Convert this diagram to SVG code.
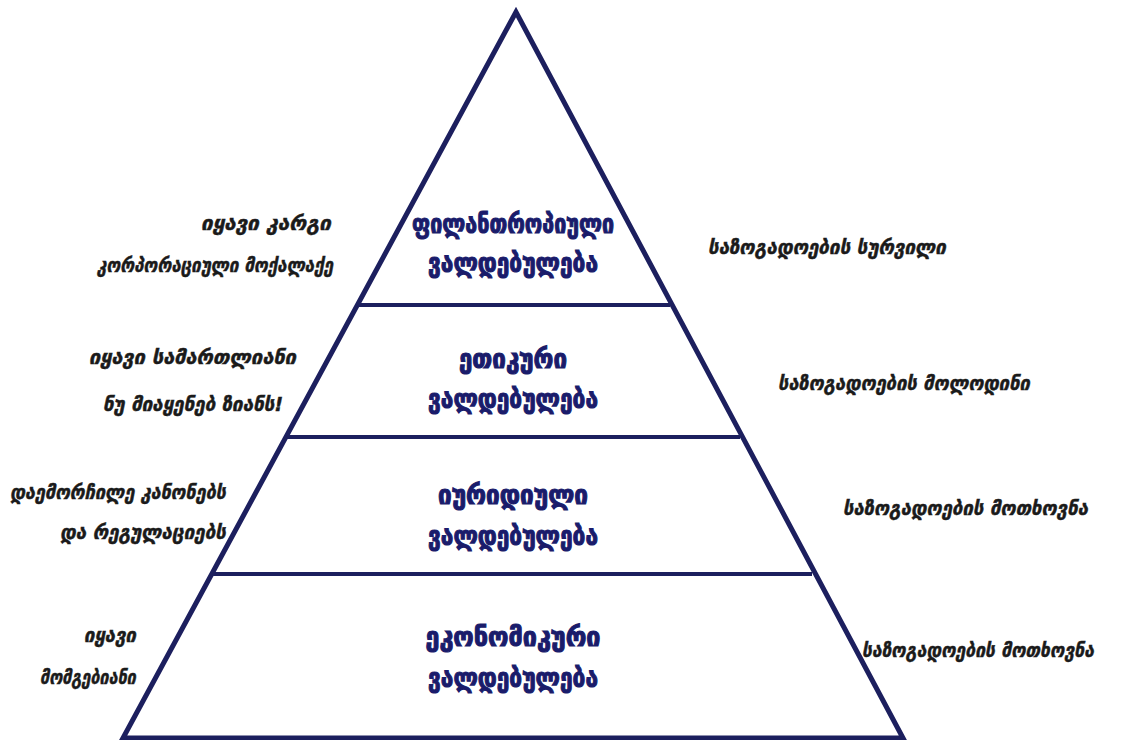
<svg xmlns="http://www.w3.org/2000/svg" width="1126" height="740" viewBox="0 0 1126 740">
<style>
.edge{fill:none;stroke:#1c1f5e;stroke-width:5;stroke-linejoin:miter}
.lvl{stroke:#1c1f5e;stroke-width:4}
.ctr{font-family:"DejaVu Sans",sans-serif;font-weight:bold;font-size:27px;fill:#1a1c6b;stroke:#1a1c6b;stroke-width:1.2;text-anchor:middle}
.side{font-family:"DejaVu Sans",sans-serif;font-weight:bold;font-style:italic;font-size:20px;fill:#1a1a1a;stroke:#1a1a1a;stroke-width:0.5}
</style>
<rect width="1126" height="740" fill="#ffffff"/>
<g id="connectors">
<polygon class="edge" points="516,12 123,738 903,738"/>
<line class="lvl" x1="358" y1="305" x2="670" y2="305"/>
<line class="lvl" x1="287" y1="437" x2="740" y2="437"/>
<line class="lvl" x1="213" y1="574" x2="812" y2="574"/>
</g>
<g id="philanthropic">
<text class="ctr" x="513" y="233" textLength="202" lengthAdjust="spacingAndGlyphs">ფილანთროპიული</text>
<text class="ctr" x="513" y="272" textLength="170" lengthAdjust="spacingAndGlyphs">ვალდებულება</text>
</g>
<g id="ethical">
<text class="ctr" x="513" y="368" textLength="108" lengthAdjust="spacingAndGlyphs">ეთიკური</text>
<text class="ctr" x="513" y="408" textLength="170" lengthAdjust="spacingAndGlyphs">ვალდებულება</text>
</g>
<g id="legal">
<text class="ctr" x="513" y="504" textLength="150" lengthAdjust="spacingAndGlyphs">იურიდიული</text>
<text class="ctr" x="513" y="545" textLength="170" lengthAdjust="spacingAndGlyphs">ვალდებულება</text>
</g>
<g id="economic">
<text class="ctr" x="513" y="646" textLength="175" lengthAdjust="spacingAndGlyphs">ეკონომიკური</text>
<text class="ctr" x="513" y="687" textLength="170" lengthAdjust="spacingAndGlyphs">ვალდებულება</text>
</g>
<g id="left-labels">
<text class="side" x="201" y="230" textLength="130" lengthAdjust="spacingAndGlyphs">იყავი კარგი</text>
<text class="side" x="97" y="272" textLength="236" lengthAdjust="spacingAndGlyphs">კორპორაციული მოქალაქე</text>
<text class="side" x="89" y="364" textLength="207" lengthAdjust="spacingAndGlyphs">იყავი სამართლიანი</text>
<text class="side" x="103" y="411" textLength="180" lengthAdjust="spacingAndGlyphs">ნუ მიაყენებ ზიანს!</text>
<text class="side" x="10" y="499" textLength="216" lengthAdjust="spacingAndGlyphs">დაემორჩილე კანონებს</text>
<text class="side" x="60" y="539" textLength="166" lengthAdjust="spacingAndGlyphs">და რეგულაციებს</text>
<text class="side" x="84" y="642" textLength="52" lengthAdjust="spacingAndGlyphs">იყავი</text>
<text class="side" x="40" y="684" textLength="96" lengthAdjust="spacingAndGlyphs">მომგებიანი</text>
</g>
<g id="right-labels">
<text class="side" x="708" y="254" textLength="238" lengthAdjust="spacingAndGlyphs">საზოგადოების სურვილი</text>
<text class="side" x="778" y="390" textLength="252" lengthAdjust="spacingAndGlyphs">საზოგადოების მოლოდინი</text>
<text class="side" x="843" y="515" textLength="245" lengthAdjust="spacingAndGlyphs">საზოგადოების მოთხოვნა</text>
<text class="side" x="862" y="657" font-size="18" textLength="232" lengthAdjust="spacingAndGlyphs">საზოგადოების მოთხოვნა</text>
</g>
</svg>
